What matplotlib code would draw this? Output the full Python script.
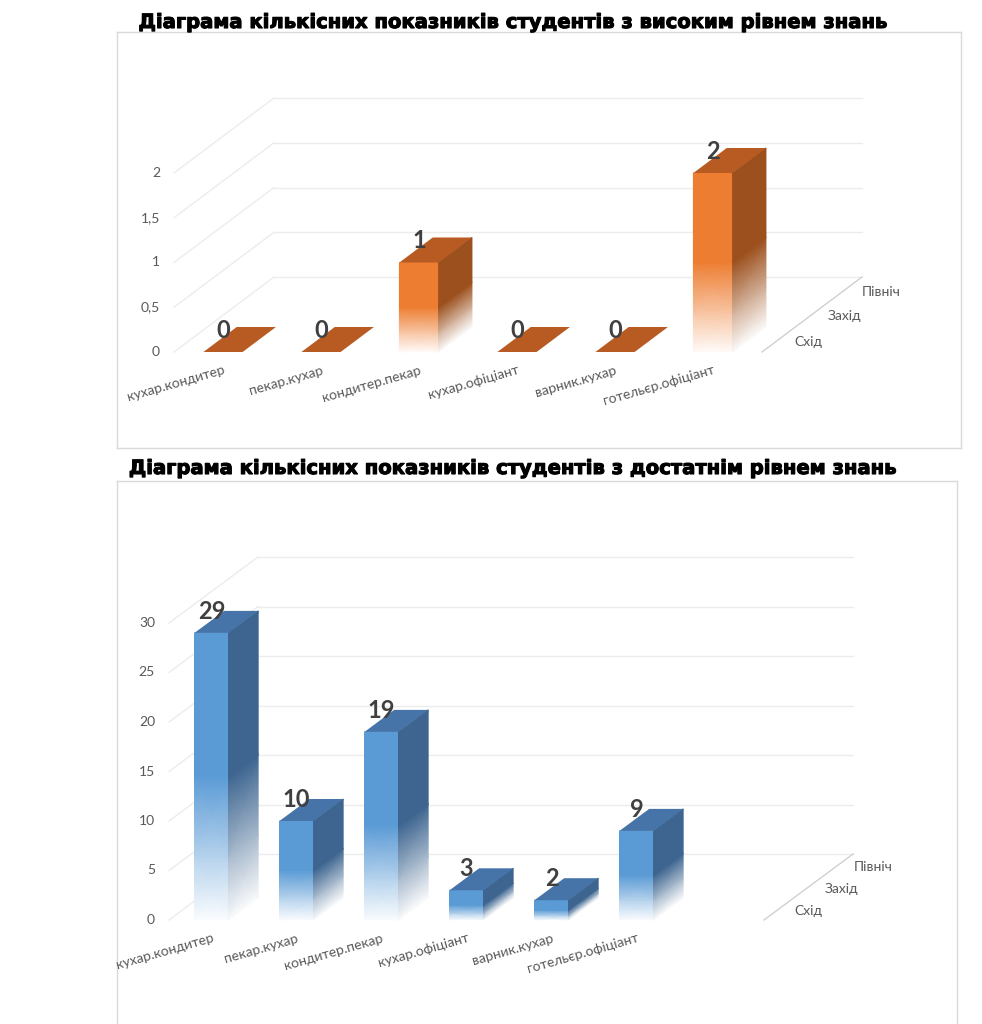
import numpy as np
import matplotlib
matplotlib.use('Agg')
import matplotlib.pyplot as plt
import matplotlib.patheffects as pe
from matplotlib.colors import LinearSegmentedColormap

plt.rcParams['font.family'] = ['Lato', 'DejaVu Sans']

# ---- data ----
categories = ['кухар.кондитер', 'пекар.кухар', 'кондитер.пекар',
              'кухар.офіціант', 'варник.кухар', 'готельєр.офіціант']
series_names = ['Схід', 'Захід', 'Північ']

title_high = 'Діаграма кількісних показників студентів з високим рівнем знань'
values_high = [0, 0, 1, 0, 0, 2]
ticks_high = [0, 0.5, 1, 1.5, 2]
tick_labels_high = ['0', '0,5', '1', '1,5', '2']

title_mid = 'Діаграма кількісних показників студентів з достатнім рівнем знань'
values_mid = [29, 10, 19, 3, 2, 9]
ticks_mid = [0, 5, 10, 15, 20, 25, 30]
tick_labels_mid = ['0', '5', '10', '15', '20', '25', '30']

W, H = 982, 1024
fig = plt.figure(figsize=(W / 100, H / 100), dpi=100)

GRID = '#ECECEC'
TXT = '#595959'


def face(ax, X, Y, color):
    # fade to white toward the bottom of the face
    cmap = LinearSegmentedColormap.from_list('f', ['white', color])
    C = np.array([[0.03, 0.03], [0.45, 0.45], [1, 1], [1, 1]])
    ax.pcolormesh(X, Y, C, cmap=cmap, vmin=0, vmax=1, shading='gouraud', zorder=3)


def panel(box, origin, cat_px, unit_px, depth_px, nslots, vals, ticks, tick_labels,
          front, top, side):
    left, top_px, right, bottom = box
    ax = fig.add_axes([left / W, 1 - bottom / H, (right - left) / W, (bottom - top_px) / H])
    x0, y0 = origin
    ax.set_xlim((left - x0) / cat_px, (right - x0) / cat_px)
    ax.set_ylim((y0 - bottom) / unit_px, (y0 - top_px) / unit_px)
    ax.set_xticks([])
    ax.set_yticks([])
    for s in ax.spines.values():
        s.set_color('#D9D9D9')
        s.set_linewidth(1)

    dx = depth_px[0] / cat_px
    dy = depth_px[1] / unit_px

    # walls
    for t, lab in zip(ticks, tick_labels):
        ax.plot([0, dx], [t, t + dy], color=GRID, lw=1, zorder=1)
        ax.plot([dx, nslots + dx], [t + dy, t + dy], color=GRID, lw=1, zorder=1)
        ax.annotate(lab, (0, t), xytext=(-14, 0), textcoords='offset pixels',
                    ha='right', va='center', fontsize=10, color=TXT)
    ax.plot([nslots, nslots + dx], [0, dy], color='#D0D0D0', lw=1, zorder=1)
    for k, name in enumerate(series_names):
        f = (2 * k + 1) / 6
        ax.annotate(name, (nslots + f * dx, f * dy), xytext=(16, -2),
                    textcoords='offset pixels', ha='left', va='center',
                    fontsize=10, color=TXT)

    # bars (front series row)
    bdx, bdy = dx / 3, dy / 3
    for i, (c, v) in enumerate(zip(categories, vals)):
        cl, cr = i + 0.3, i + 0.7
        if v > 0:
            tt = np.array([0, 0.22, 0.5, 1.0]) * v
            face(ax, np.array([[cl, cr]] * 4), np.column_stack([tt, tt]), front)
            face(ax, np.array([[cr, cr + bdx]] * 4), np.column_stack([tt, tt + bdy]), side)
        ax.fill([cl, cr, cr + bdx, cl + bdx], [v, v, v + bdy, v + bdy],
                color=top, lw=0, zorder=4)
        ax.annotate(str(v), (i + 0.5, v), xytext=(0, 14), textcoords='offset pixels',
                    ha='center', va='baseline', fontsize=17, fontweight='bold',
                    color='#404040', zorder=6)
        ax.annotate(c, (i + 0.5, 0), xytext=(0, -12), textcoords='offset pixels',
                    ha='right', va='top', rotation=16, rotation_mode='anchor',
                    fontsize=10, color=TXT)
    return ax


panel((117, 32, 961, 448), (174, 352), 98, 89.5, (100, 75), 6,
      values_high, ticks_high, tick_labels_high,
      '#ED7D31', '#B85B22', '#9C501D')
panel((117, 481, 957, 1040), (169, 920), 85, 9.9, (89, 66), 7,
      values_mid, ticks_mid, tick_labels_mid,
      '#5B9BD5', '#4674A8', '#3D6590')

heavy = [pe.withStroke(linewidth=0.8, foreground='black')]
fig.text(513 / W, 1 - 28 / H, title_high, ha='center', va='baseline',
         fontsize=14.1, fontweight='bold', family='DejaVu Sans', path_effects=heavy)
fig.text(513 / W, 1 - 474 / H, title_mid, ha='center', va='baseline',
         fontsize=14.1, fontweight='bold', family='DejaVu Sans', path_effects=heavy)

fig.savefig('out.png', dpi=100)
